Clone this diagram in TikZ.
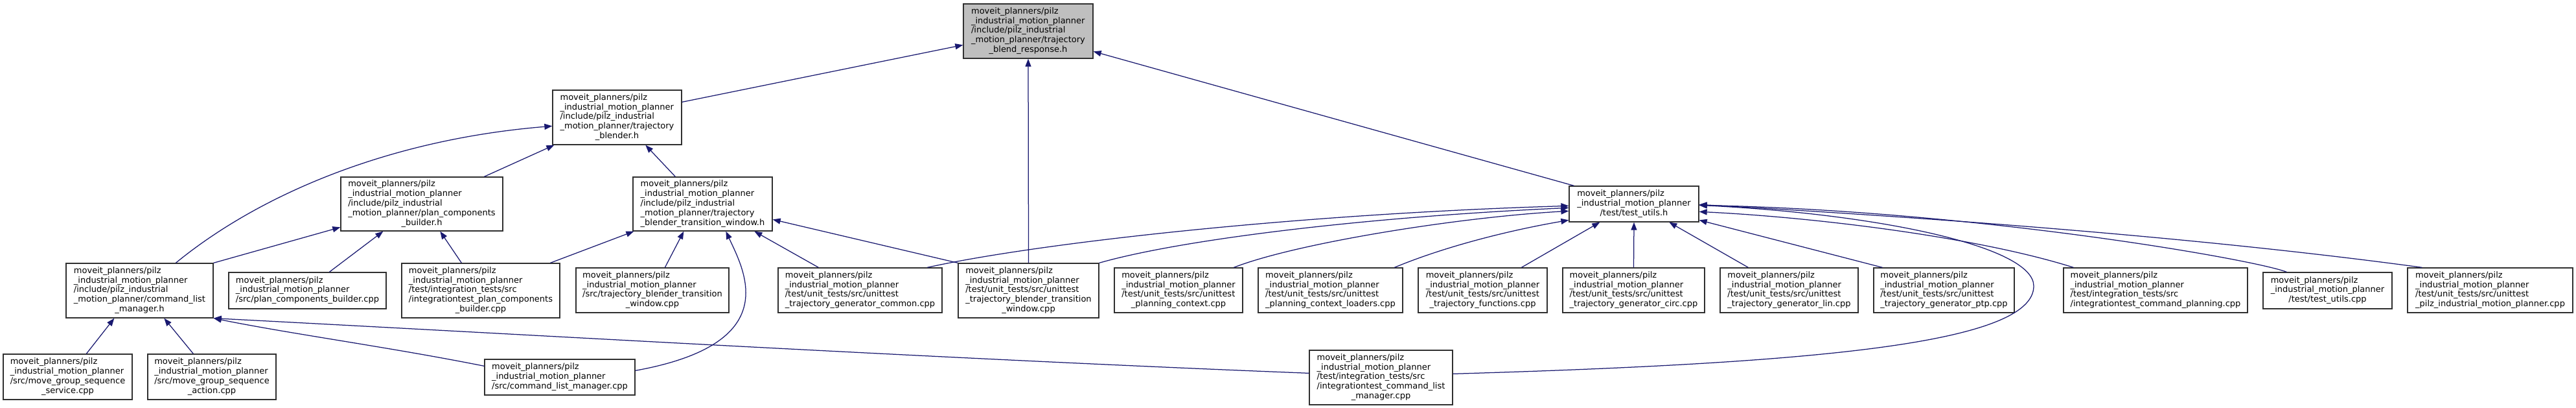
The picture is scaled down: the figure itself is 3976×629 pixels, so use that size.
\documentclass[tikz,border=0pt]{standalone}
\usepackage{fontspec}
\setmainfont{DejaVu Sans}
\usetikzlibrary{arrows.meta,calc}
\definecolor{edgeblue}{HTML}{191970}
\definecolor{topgray}{HTML}{BFBFBF}
\definecolor{boxline}{HTML}{303030}
\newcommand\lbl[2]{\begin{tabular}{@{}l@{}}#1\\\multicolumn{1}{@{}c@{}}{#2}\end{tabular}}
\newcommand\bx[6][]{\node[box,#1,minimum width={(#5)-(#3)},minimum height={(#6)-(#4)}] (#2) at ({((#3)+(#5))/2},{((#4)+(#6))/2})}
\newcommand\mypfx{moveit\_planners/pilz\\\_industrial\_motion\_planner}
\begin{document}
\begin{tikzpicture}[x=1pt,y=-1pt,
  box/.style={draw=boxline,line width=1.3pt,inner sep=0pt,fill=white,text=black,font=\fontsize{13}{14.8}\selectfont},
  dep/.style={draw=edgeblue,line width=1.25pt,-{Triangle[length=12pt,width=9pt]}}]
\fill[white] (0,0) rectangle (3976,629);
\useasboundingbox (0,0) rectangle (3976,629);
% nodes
\bx[fill=topgray]{top}{1487}{6}{1687}{90}{\lbl{\mypfx\\/include/pilz\_industrial\\\_motion\_planner/trajectory}{\_blend\_response.h}};
\bx{blender}{853}{139}{1052}{223}{\lbl{\mypfx\\/include/pilz\_industrial\\\_motion\_planner/trajectory}{\_blender.h}};
\bx{tuh}{2422}{287}{2622}{342}{\lbl{\mypfx}{/test/test\_utils.h}};
\bx{pcbh}{526}{273}{776}{356}{\lbl{\mypfx\\/include/pilz\_industrial\\\_motion\_planner/plan\_components}{\_builder.h}};
\bx{twh}{977}{273}{1192}{356}{\lbl{\mypfx\\/include/pilz\_industrial\\\_motion\_planner/trajectory}{\_blender\_transition\_window.h}};
\bx{clmh}{102}{406}{329}{490}{\lbl{\mypfx\\/include/pilz\_industrial\\\_motion\_planner/command\_list}{\_manager.h}};
\bx{pcbcpp}{353}{420}{596}{476}{\lbl{\mypfx}{/src/plan\_components\_builder.cpp}};
\bx{itpcb}{620}{406}{864}{490}{\lbl{\mypfx\\/test/integration\_tests/src\\/integrationtest\_plan\_components}{\_builder.cpp}};
\bx{tbtw}{889}{413}{1125}{482}{\lbl{\mypfx\\/src/trajectory\_blender\_transition}{\_window.cpp}};
\bx{utgc}{1201}{413}{1454}{482}{\lbl{\mypfx\\/test/unit\_tests/src/unittest}{\_trajectory\_generator\_common.cpp}};
\bx{utbtw}{1479}{406}{1696}{490}{\lbl{\mypfx\\/test/unit\_tests/src/unittest\\\_trajectory\_blender\_transition}{\_window.cpp}};
\bx{upc}{1720}{413}{1918}{482}{\lbl{\mypfx\\/test/unit\_tests/src/unittest}{\_planning\_context.cpp}};
\bx{upcl}{1942}{413}{2165}{482}{\lbl{\mypfx\\/test/unit\_tests/src/unittest}{\_planning\_context\_loaders.cpp}};
\bx{utf}{2189}{413}{2388}{482}{\lbl{\mypfx\\/test/unit\_tests/src/unittest}{\_trajectory\_functions.cpp}};
\bx{circ}{2412}{413}{2631}{482}{\lbl{\mypfx\\/test/unit\_tests/src/unittest}{\_trajectory\_generator\_circ.cpp}};
\bx{lin}{2655}{413}{2868}{482}{\lbl{\mypfx\\/test/unit\_tests/src/unittest}{\_trajectory\_generator\_lin.cpp}};
\bx{ptp}{2892}{413}{3109}{482}{\lbl{\mypfx\\/test/unit\_tests/src/unittest}{\_trajectory\_generator\_ptp.cpp}};
\bx{itcp}{3185}{413}{3469}{482}{\lbl{\mypfx\\/test/integration\_tests/src}{/integrationtest\_command\_planning.cpp}};
\bx{tucpp}{3493}{420}{3692}{476}{\lbl{\mypfx}{/test/test\_utils.cpp}};
\bx{upimp}{3716}{413}{3971}{482}{\lbl{\mypfx\\/test/unit\_tests/src/unittest}{\_pilz\_industrial\_motion\_planner.cpp}};
\bx{mgss}{5}{546}{204}{616}{\lbl{\mypfx\\/src/move\_group\_sequence}{\_service.cpp}};
\bx{mgsa}{228}{546}{426}{616}{\lbl{\mypfx\\/src/move\_group\_sequence}{\_action.cpp}};
\bx{clmcpp}{748}{554}{980}{609}{\lbl{\mypfx}{/src/command\_list\_manager.cpp}};
\bx{itclm}{2021}{540}{2242}{624}{\lbl{\mypfx\\/test/integration\_tests/src\\/integrationtest\_command\_list}{\_manager.cpp}};
\coordinate (bend) at (3139,441);
% edges
\draw[dep] ($(blender.north east)+(0,19)$) -- ($(top.north west)+(0,64)$);
\draw[dep] ($(tuh.north west)+(8,0)$) -- ($(top.north east)+(0,74)$);
\draw[dep] (utbtw.north) -- (top.south);
\draw[dep] ($(pcbh.north west)+(222,0)$) -- ($(blender.south west)+(3,0)$);
\draw[dep] ($(twh.north west)+(66,0)$) -- ($(blender.south west)+(144,0)$);
\draw[dep] ($(clmh.north west)+(170,0)$) .. controls (400,300) and (600,215) .. ($(blender.north west)+(0,56)$);
\draw[dep] (clmh.north east) -- ($(pcbh.north west)+(0,78)$);
\draw[dep] ($(pcbcpp.north west)+(156,0)$) -- ($(pcbh.south west)+(66,0)$);
\draw[dep] ($(itpcb.north west)+(93,0)$) -- ($(pcbh.south west)+(154,0)$);
\draw[dep] ($(itpcb.north west)+(230,0)$) -- ($(twh.south west)+(2,0)$);
\draw[dep] ($(tbtw.north west)+(138,0)$) -- ($(twh.south west)+(79,0)$);
\draw[dep] ($(clmcpp.north east)+(0,18)$) .. controls (1210,530) and (1150,420) .. ($(twh.south west)+(144,0)$);
\draw[dep] ($(clmcpp.north west)+(0,11)$) .. controls (600,535) and (450,515) .. (clmh.south east);
\draw[dep] ($(itclm.north west)+(0,36)$) .. controls (1450,553) and (800,515) .. (clmh.south east);
\draw[dep] ($(mgss.north west)+(129,0)$) -- ($(clmh.south west)+(75,0)$);
\draw[dep] ($(mgsa.north west)+(71,0)$) -- ($(clmh.south west)+(152,0)$);
\draw[dep] (utbtw.north west) -- ($(twh.north east)+(0,66)$);
\draw[dep] ($(utgc.north west)+(63,0)$) -- ($(twh.south west)+(188,0)$);
\draw[dep] ($(utgc.north west)+(231,0)$) .. controls (1600,375) and (2000,330) .. ($(tuh.north west)+(0,31)$);
\draw[dep] (utbtw.north east) .. controls (1820,370) and (2100,335) .. ($(tuh.north west)+(0,34)$);
\draw[dep] ($(upc.north west)+(185,0)$) .. controls (2000,375) and (2250,335) .. ($(tuh.north west)+(0,39)$);
\draw[dep] ($(upcl.north west)+(211,0)$) .. controls (2230,380) and (2330,355) .. ($(tuh.north west)+(0,53)$);
\draw[dep] ($(utf.north west)+(160,0)$) -- ($(tuh.south west)+(48,0)$);
\draw[dep] (circ.north) -- (tuh.south);
\draw[dep] ($(lin.north west)+(44,0)$) -- ($(tuh.south west)+(155,0)$);
\draw[dep] ($(ptp.north west)+(14,0)$) -- ($(tuh.north east)+(0,53)$);
\draw[dep] ($(itcp.north west)+(16,0)$) .. controls (3050,365) and (2800,335) .. ($(tuh.north east)+(0,40)$);
\draw[dep] ($(tucpp.north west)+(37,0)$) .. controls (3480,400) and (3050,325) .. ($(tuh.north east)+(0,30)$);
\draw[dep] ($(upimp.north west)+(23,0)$) .. controls (3500,380) and (3150,345) .. ($(tuh.north east)+(0,29)$);
\draw[dep] ($(itclm.north east)+(0,37)$) .. controls (2800,560) and (3139,530) .. (bend) .. controls (3139,380) and (2900,330) .. ($(tuh.north east)+(0,30)$);
\end{tikzpicture}
\end{document}
